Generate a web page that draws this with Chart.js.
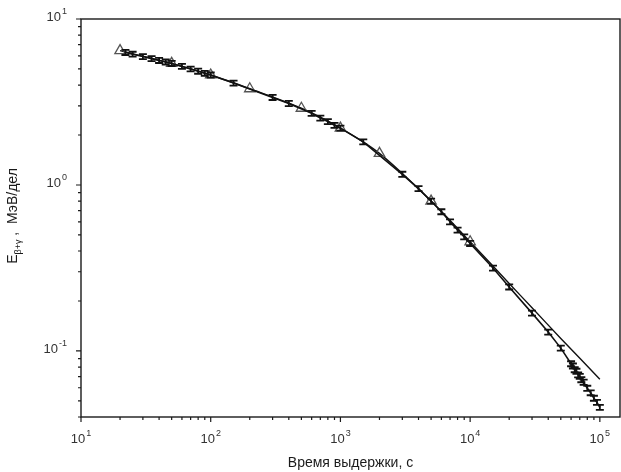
<!DOCTYPE html>
<html>
<head>
<meta charset="utf-8">
<script src="https://cdn.jsdelivr.net/npm/chart.js@4/dist/chart.umd.min.js"></script>
<style>
  html, body { margin: 0; padding: 0; background: #fff; }
  #wrap { width: 621px; height: 472px; }
</style>
</head>
<body>
<div id="wrap"><canvas id="decayChart"></canvas></div>
<script>
// измерения: время выдержки (с), энергия (МэВ/дел), погрешность
const measTime = [22, 25, 30, 35, 40, 45, 50, 60, 70, 80, 90, 100, 150, 300, 400, 600, 700, 800, 900, 1000,
  1500, 3000, 4000, 5000, 6000, 7000, 8000, 9000, 10000, 15000, 20000, 30000, 40000, 50000,
  60000, 62000, 64000, 66000, 68000, 70000, 72000, 75000, 80000, 85000, 90000, 95000, 100000];
const measEnergy = [6.29, 6.14, 5.94, 5.77, 5.63, 5.51, 5.40, 5.18, 5.00, 4.85, 4.71, 4.60, 4.11, 3.37, 3.10, 2.70, 2.53, 2.41, 2.29, 2.20,
  1.82, 1.16, 0.95, 0.80, 0.69, 0.60, 0.535, 0.487, 0.445, 0.316, 0.243, 0.169, 0.130, 0.104,
  0.0838, 0.0812, 0.0771, 0.0755, 0.0718, 0.0703, 0.0672, 0.0648, 0.0596, 0.0560, 0.0519, 0.0490, 0.0457];
const measError = [0.22, 0.21, 0.21, 0.20, 0.20, 0.19, 0.19, 0.18, 0.17, 0.17, 0.16, 0.16, 0.14, 0.12, 0.11, 0.094, 0.088, 0.084, 0.080, 0.077,
  0.064, 0.041, 0.033, 0.028, 0.024, 0.021, 0.019, 0.017, 0.016, 0.011, 0.0085, 0.0059, 0.0046, 0.0036,
  0.0029, 0.0028, 0.0027, 0.0026, 0.0025, 0.0025, 0.0024, 0.0023, 0.0021, 0.0019, 0.0018, 0.0017, 0.0016];

// расчёт (треугольники до 10^4, дальше только линия)
const calcTime = [20, 50, 100, 200, 500, 1000, 2000, 5000, 10000, 20000, 30000, 50000, 100000];
const calcEnergy = [6.45, 5.4, 4.6, 3.8, 2.9, 2.2, 1.55, 0.80, 0.455, 0.255, 0.182, 0.119, 0.0676];
const calcMarkerLimit = 10000;

// подписи осей: степени десяти
const xTickExp = [1, 2, 3, 4, 5];
const yTickExp = [-1, 0, 1];

const X_MIN = 10, X_MAX = 143000, Y_MIN = 0.04, Y_MAX = 10;
const FONT = '"Liberation Sans", Arial, sans-serif';
const INK = '#1a1a1a';

const toPoints = (xs, ys) => xs.map((x, i) => ({ x: x, y: ys[i] }));

// рамка, засечки, подписи и названия осей
const axesPlugin = {
  id: 'axesPlugin',
  afterDraw(chart) {
    const ctx = chart.ctx;
    const a = chart.chartArea;
    const xs = chart.scales.x, ys = chart.scales.y;
    ctx.save();
    ctx.strokeStyle = INK;
    ctx.lineWidth = 1.4;
    ctx.strokeRect(a.left, a.top, a.right - a.left, a.bottom - a.top);

    ctx.lineWidth = 1.2;
    ctx.beginPath();
    for (let e = 1; e <= 5; e++) {
      for (let k = 1; k <= 9; k++) {
        const v = k * Math.pow(10, e);
        if (v < X_MIN || v > X_MAX) continue;
        const px = xs.getPixelForValue(v);
        ctx.moveTo(px, a.bottom);
        ctx.lineTo(px, a.bottom + (k === 1 ? 5 : 3));
      }
    }
    for (let e = -2; e <= 1; e++) {
      for (let k = 1; k <= 9; k++) {
        const v = k * Math.pow(10, e);
        if (v < Y_MIN - 1e-9 || v > Y_MAX + 1e-9) continue;
        const py = ys.getPixelForValue(v);
        ctx.moveTo(a.left, py);
        ctx.lineTo(a.left - (k === 1 ? 5 : 3), py);
      }
    }
    ctx.stroke();

    // 10 с показателем степени
    ctx.fillStyle = '#333';
    ctx.textBaseline = 'middle';
    const powLabel = (exp, x, y, align) => {
      ctx.font = '13px ' + FONT;
      const wb = ctx.measureText('10').width;
      ctx.font = '9px ' + FONT;
      const sup = String(exp);
      const ws = ctx.measureText(sup).width;
      const total = wb + ws + 1;
      const x0 = align === 'center' ? x - total / 2 : x - total;
      ctx.textAlign = 'left';
      ctx.font = '13px ' + FONT;
      ctx.fillText('10', x0, y);
      ctx.font = '9px ' + FONT;
      ctx.fillText(sup, x0 + wb + 1, y - 5);
    };
    xTickExp.forEach(e => powLabel(e, xs.getPixelForValue(Math.pow(10, e)), a.bottom + 22, 'center'));
    yTickExp.forEach(e => powLabel(e, a.left - 14, ys.getPixelForValue(Math.pow(10, e)) - 2, 'right'));

    // название оси X
    ctx.fillStyle = INK;
    ctx.font = '14px ' + FONT;
    ctx.textAlign = 'center';
    ctx.fillText('Время выдержки, с', (a.left + a.right) / 2, 463);

    // название оси Y с нижним индексом
    ctx.translate(13, 216);
    ctx.rotate(-Math.PI / 2);
    const parts = [
      { t: 'E', f: '14px ' + FONT, dy: 0 },
      { t: 'β+γ', f: '9px ' + FONT, dy: 6 },
      { t: ' ,  МэВ/дел', f: '14px ' + FONT, dy: 0 }
    ];
    let total = 0;
    parts.forEach(p => { ctx.font = p.f; p.w = ctx.measureText(p.t).width; total += p.w; });
    let cx = -total / 2;
    ctx.textAlign = 'left';
    parts.forEach(p => {
      ctx.font = p.f;
      ctx.fillText(p.t, cx, p.dy);
      cx += p.w;
    });
    ctx.restore();
  }
};

// погрешности измерений
const errorBarPlugin = {
  id: 'errorBars',
  afterDatasetsDraw(chart) {
    const ctx = chart.ctx;
    const xs = chart.scales.x, ys = chart.scales.y;
    ctx.save();
    ctx.strokeStyle = '#111';
    ctx.lineWidth = 1.8;
    ctx.beginPath();
    measTime.forEach((t, i) => {
      const px = xs.getPixelForValue(t);
      const top = ys.getPixelForValue(measEnergy[i] + measError[i]);
      const bot = ys.getPixelForValue(measEnergy[i] - measError[i]);
      ctx.moveTo(px, top); ctx.lineTo(px, bot);
      ctx.moveTo(px - 4, top); ctx.lineTo(px + 4, top);
      ctx.moveTo(px - 4, bot); ctx.lineTo(px + 4, bot);
    });
    ctx.stroke();
    ctx.restore();
  }
};

new Chart(document.getElementById('decayChart'), {
  type: 'line',
  data: {
    datasets: [
      {
        label: 'эксперимент',
        data: toPoints(measTime, measEnergy),
        borderColor: '#111',
        borderWidth: 1.6,
        pointRadius: 0,
        tension: 0
      },
      {
        label: 'расчёт',
        data: toPoints(calcTime, calcEnergy),
        borderColor: '#111',
        borderWidth: 1.4,
        tension: 0.3,
        pointStyle: 'triangle',
        pointRadius: c => (c.raw && c.raw.x <= calcMarkerLimit ? 6 : 0),
        pointBorderColor: '#555',
        pointBackgroundColor: 'rgba(255,255,255,0)',
        pointBorderWidth: 1.3
      }
    ]
  },
  options: {
    responsive: true,
    maintainAspectRatio: false,
    animation: false,
    layout: { autoPadding: false, padding: { top: 19, right: 1, left: 0, bottom: 0 } },
    plugins: { legend: { display: false }, tooltip: { enabled: false } },
    scales: {
      x: {
        type: 'logarithmic',
        min: X_MIN, max: X_MAX,
        ticks: { display: false },
        grid: { display: false },
        border: { display: false },
        afterFit(s) { s.height = 55; }
      },
      y: {
        type: 'logarithmic',
        min: Y_MIN, max: Y_MAX,
        ticks: { display: false },
        grid: { display: false },
        border: { display: false },
        afterFit(s) { s.width = 81; }
      }
    }
  },
  plugins: [errorBarPlugin, axesPlugin]
});
</script>
</body>
</html>
